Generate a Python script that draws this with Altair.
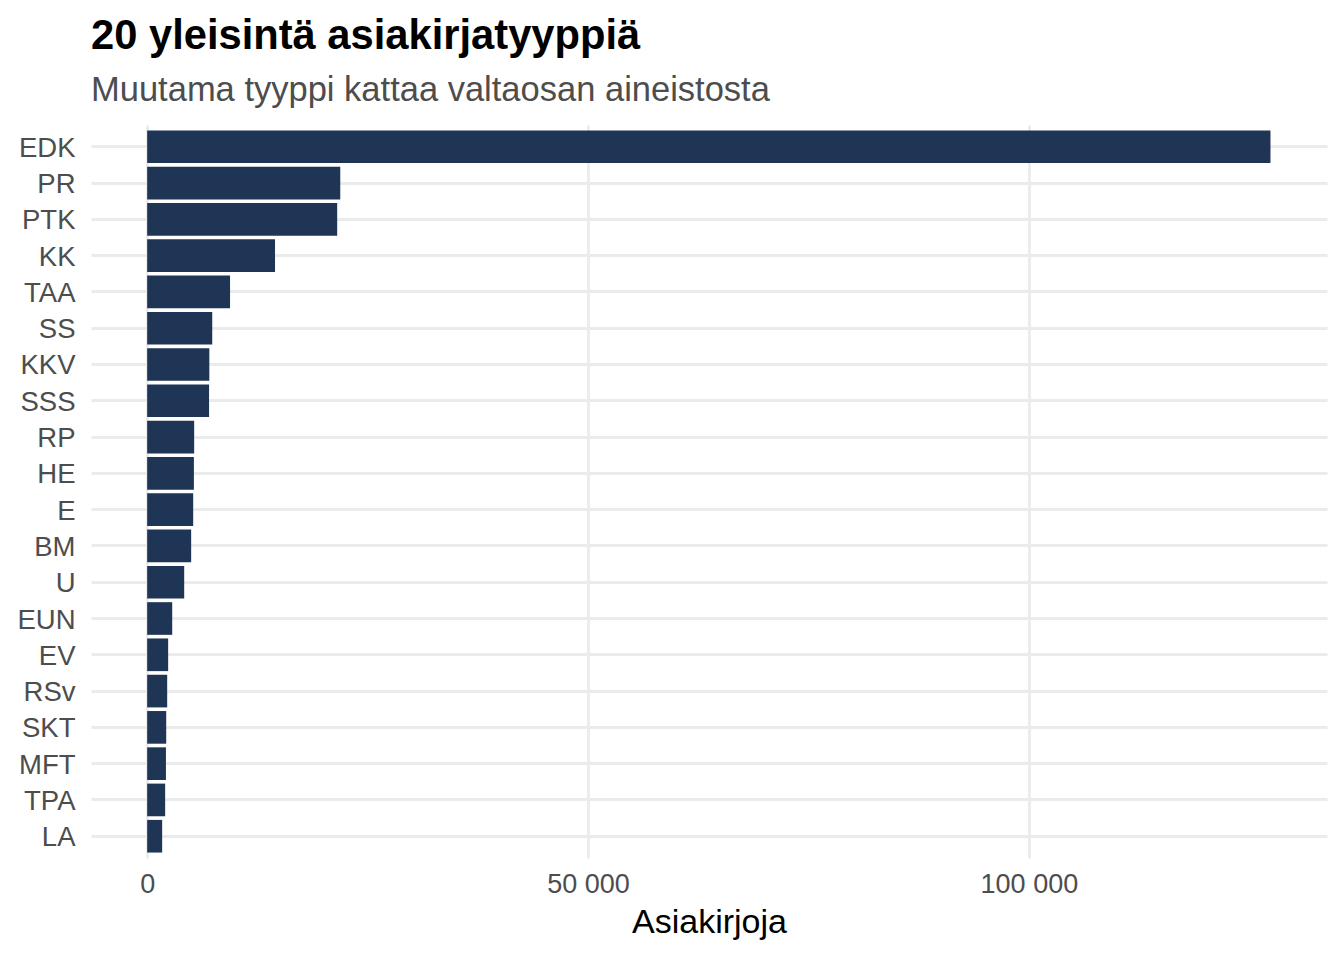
import altair as alt
import pandas as pd

categories = ["EDK", "PR", "PTK", "KK", "TAA", "SS", "KKV", "SSS", "RP", "HE",
              "E", "BM", "U", "EUN", "EV", "RSv", "SKT", "MFT", "TPA", "LA"]
counts = [127400, 21900, 21550, 14500, 9400, 7380, 7050, 7020, 5330, 5300,
          5220, 4990, 4200, 2840, 2380, 2270, 2160, 2130, 2040, 1700]
tick_values = [0, 50000, 100000]
tick_labels = ["0", "50 000", "100 000"]

df = pd.DataFrame({"tyyppi": categories, "n": counts})

label_expr = " : ".join(
    f"datum.value == {v} ? '{l}'" for v, l in zip(tick_values, tick_labels)
) + " : ''"

FONT = "Liberation Sans"

chart = alt.Chart(df).mark_bar(color="#1f3556").encode(
    x=alt.X("n:Q",
            scale=alt.Scale(domain=[-6370, 133810], nice=False, zero=False),
            axis=alt.Axis(values=tick_values, labelExpr=label_expr, title="Asiakirjoja",
                          grid=True, gridColor="#ebebeb", gridWidth=2.8,
                          ticks=False, tickSize=0, domain=False,
                          labelFont=FONT, labelFontSize=27, labelColor="#4d4d4d",
                          labelPadding=13,
                          titleFont=FONT, titleFontSize=34, titleFontWeight="normal",
                          titleColor="#000000", titlePadding=8)),
    x2=alt.datum(0),
    y=alt.Y("tyyppi:N", sort=categories,
            scale=alt.Scale(paddingInner=0.1, paddingOuter=0.15),
            axis=alt.Axis(title=None, grid=True, gridColor="#ebebeb", gridWidth=2.8,
                          bandPosition=0.5, ticks=False, tickSize=0, domain=False,
                          labelFont=FONT, labelFontSize=27.5, labelColor="#4d4d4d",
                          labelPadding=16, labelOffset=2)),
).properties(
    width=1236,
    height=733,
    title=alt.TitleParams(
        text="20 yleisintä asiakirjatyyppiä",
        subtitle="Muutama tyyppi kattaa valtaosan aineistosta",
        anchor="start", frame="group",
        font=FONT, fontSize=41.7, fontWeight="bold", color="#000000",
        subtitleFont=FONT, subtitleFontSize=34.5, subtitleColor="#4d4d4d",
        subtitlePadding=16, offset=18,
    ),
    padding={"left": 83, "top": 117, "right": 9, "bottom": 94},
    autosize=alt.AutoSizeParams(type="none"),
).configure_view(stroke=None)

chart.save("out.html", embed_options={"renderer": "svg", "actions": False})
